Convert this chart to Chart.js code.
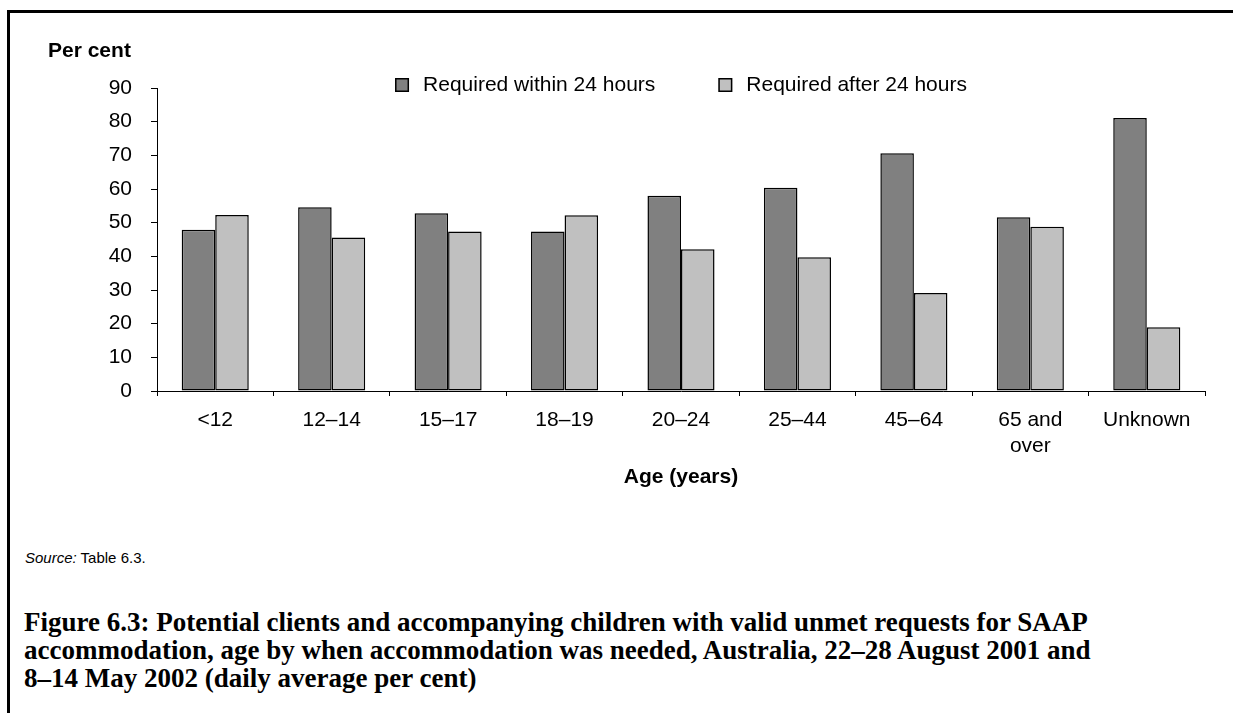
<!DOCTYPE html>
<html>
<head>
<meta charset="utf-8">
<script src="https://cdn.jsdelivr.net/npm/chart.js@4.4.1/dist/chart.umd.min.js"></script>
<style>
  html, body { margin: 0; padding: 0; background: #fff; }
  body { width: 1234px; height: 713px; position: relative; overflow: hidden; font-family: "Liberation Sans", Arial, sans-serif; color: #000; }
  #frame { position: absolute; left: 7px; top: 10px; width: 1223px; height: 720px; border-left: 3px solid #000; border-top: 3px solid #000; }
  #wrap { position: absolute; left: 0; top: 0; width: 1234px; height: 500px; }
  #source { position: absolute; left: 25px; top: 549px; font-size: 15px; line-height: 18px; white-space: nowrap; }
  #caption { position: absolute; left: 24px; top: 608px; font-family: "Liberation Serif", "Times New Roman", serif; font-weight: bold; font-size: 27px; line-height: 28px; white-space: nowrap; }
</style>
</head>
<body>
<div id="frame"></div>
<div id="wrap"><canvas id="chart" width="1234" height="500"></canvas></div>
<div id="source"><i>Source:</i> Table 6.3.</div>
<div id="caption">
  <div>Figure 6.3: Potential clients and accompanying children with valid unmet requests for SAAP</div>
  <div>accommodation, age by when accommodation was needed, Australia, 22–28 August 2001 and</div>
  <div>8–14 May 2002 (daily average per cent)</div>
</div>
<script>
// age groups and per cent of requests
const ageGroups = ['<12', '12–14', '15–17', '18–19', '20–24', '25–44', '45–64', ['65 and', 'over'], 'Unknown'];
const within24 = [47.9, 54.6, 52.8, 47.4, 58.0, 60.4, 70.6, 51.6, 81.1];
const after24 = [52.3, 45.6, 47.4, 52.2, 42.1, 39.7, 29.1, 48.8, 18.9];
const yTicks = [0, 10, 20, 30, 40, 50, 60, 70, 80, 90];

const FONT = '"Liberation Sans", Arial, sans-serif';
Chart.defaults.font.family = FONT;
Chart.defaults.color = '#000';

// "Per cent" heading and the legend sit inside the top of the plot, so draw them by hand
const overlay = {
    id: 'overlay',
    afterDraw(chart) {
        const ctx = chart.ctx;
        const area = chart.chartArea;
        ctx.save();
        ctx.fillStyle = '#000';
        ctx.textBaseline = 'alphabetic';
        ctx.font = 'bold 21px ' + FONT;
        ctx.fillText('Per cent', 48, 57);

        ctx.font = '21px ' + FONT;
        const items = chart.data.datasets.map(ds => ({
            label: ds.label,
            color: ds.backgroundColor,
            w: 28 + ctx.measureText(ds.label).width
        }));
        const gap = 63;
        const total = items.reduce((s, it) => s + it.w, 0) + gap * (items.length - 1);
        let x = (area.left + area.right) / 2 - total / 2;
        const boxTop = area.top - 10;
        items.forEach(it => {
            ctx.fillStyle = it.color;
            ctx.fillRect(x, boxTop, 14, 14);
            ctx.strokeStyle = '#000';
            ctx.lineWidth = 1.5;
            ctx.strokeRect(x + 0.75, boxTop + 0.75, 12.5, 12.5);
            ctx.fillStyle = '#000';
            ctx.fillText(it.label, x + 28, boxTop + 13);
            x += it.w + gap;
        });
        ctx.restore();
    }
};

new Chart(document.getElementById('chart'), {
    type: 'bar',
    data: {
        labels: ageGroups,
        datasets: [
            {
                label: 'Required within 24 hours',
                data: within24,
                backgroundColor: '#808080',
                borderColor: '#000',
                borderWidth: 1.5,
                borderSkipped: false
            },
            {
                label: 'Required after 24 hours',
                data: after24,
                backgroundColor: '#c0c0c0',
                borderColor: '#000',
                borderWidth: 1.5,
                borderSkipped: false
            }
        ]
    },
    options: {
        responsive: false,
        animation: false,
        devicePixelRatio: 1,
        layout: { padding: { top: 88, right: 29, bottom: 10, left: 0 } },
        datasets: { bar: { categoryPercentage: 0.576, barPercentage: 1.0 } },
        plugins: {
            legend: { display: false },
            tooltip: { enabled: false }
        },
        scales: {
            x: {
                afterFit: scale => { scale.height = 99; },
                grid: { drawOnChartArea: false, tickLength: 5, color: '#000', offset: true },
                border: { color: '#000', width: 1 },
                ticks: { color: '#000', font: { size: 21 }, padding: 12, maxRotation: 0, autoSkip: false },
                title: { display: true, text: 'Age (years)', color: '#000', font: { size: 21, weight: 'bold' }, padding: 0 }
            },
            y: {
                min: yTicks[0],
                max: yTicks[yTicks.length - 1],
                afterFit: scale => { scale.width = 157; },
                afterBuildTicks: scale => { scale.ticks = yTicks.map(v => ({ value: v })); },
                grid: { drawOnChartArea: false, tickLength: 6, color: '#000' },
                border: { color: '#000', width: 1 },
                ticks: { color: '#000', font: { size: 21 }, padding: 19 }
            }
        }
    },
    plugins: [overlay]
});
</script>
</body>
</html>
